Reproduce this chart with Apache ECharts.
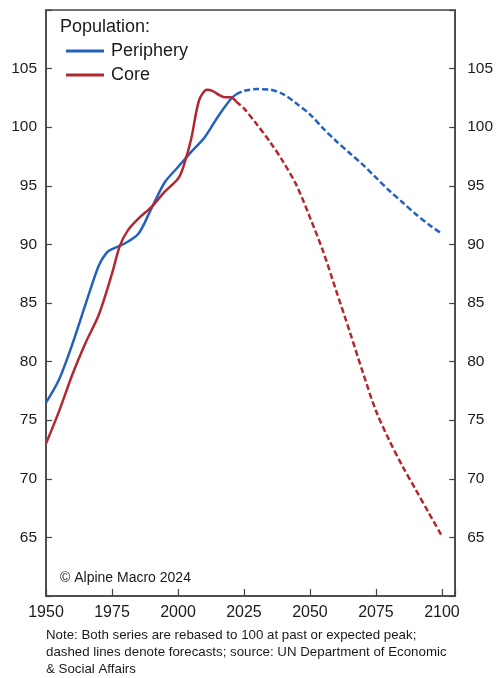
<!DOCTYPE html>
<html>
<head>
<meta charset="utf-8">
<script src="https://cdn.jsdelivr.net/npm/echarts@6/dist/echarts.min.js"></script>
<style>
html,body{margin:0;padding:0;background:#fff;}
#chart{width:496px;height:678px;}
</style>
</head>
<body>
<div id="chart"></div>
<script>
// Periphery (historical, solid)
const peripheryHistYears = [1950,1955,1960,1965,1970,1973,1975,1980,1985,1990,1995,2000,2005,2010,2015,2020,2022];
const peripheryHist      = [76.5,78.5,81.5,84.9,88.2,89.3,89.6,90.1,90.9,93.1,95.3,96.6,97.9,99.1,100.85,102.4,102.8];
// Periphery (forecast, dashed)
const peripheryFcYears = [2022,2025,2030,2035,2040,2045,2050,2055,2060,2065,2070,2075,2080,2085,2090,2095,2100];
const peripheryFc      = [102.8,103.1,103.25,103.2,102.8,102.0,101.1,99.9,98.8,97.8,96.8,95.7,94.6,93.6,92.6,91.7,90.9];
// Core (historical, solid)
const coreHistYears = [1950,1955,1960,1965,1970,1975,1978,1981,1985,1990,1995,2000,2002,2005,2008,2011,2013,2016,2018,2020,2022];
const coreHist      = [73.0,75.8,78.9,81.6,84.0,87.5,89.9,91.2,92.2,93.2,94.5,95.6,96.6,99.0,102.3,103.2,103.1,102.7,102.55,102.55,102.2];
// Core (forecast, dashed)
const coreFcYears = [2022,2025,2030,2035,2040,2045,2050,2055,2060,2065,2070,2075,2080,2085,2090,2095,2100];
const coreFc      = [102.2,101.6,100.2,98.7,97.0,95.0,92.3,89.4,86.0,82.6,79.1,75.8,73.3,71.1,69.1,67.1,65.1];

const xTickLabels = [1950,1975,2000,2025,2050,2075,2100];
const yTickLabels = [65,70,75,80,85,90,95,100,105];

const seriesNames = ['Periphery','Core'];
const BLUE = '#2461bd';
const RED = '#b2282f';
const FONT = '"Liberation Sans", Arial, sans-serif';

function pairs(xs, ys){ return xs.map((x,i)=>[x, ys[i]]); }

const chart = echarts.init(document.getElementById('chart'), null, {renderer:'canvas'});

const yAxisCommon = {
  type:'value', min:60, max:110, interval:5,
  axisLine:{show:true, lineStyle:{color:'#444', width:1.5}},
  axisTick:{show:true, inside:true, length:6, lineStyle:{color:'#444', width:1.2}},
  splitLine:{show:false},
  axisLabel:{
    fontFamily:FONT, fontSize:15.5, color:'#1a1a1a',
    formatter: v => yTickLabels.indexOf(v) >= 0 ? String(v) : ''
  }
};

const option = {
  animation:false,
  backgroundColor:'#fff',
  grid:{left:46, right:37, top:10, bottom:82, show:true, borderColor:'#444', borderWidth:1.5, containLabel:false},
  xAxis:{
    type:'value', min:1950, max:2105, interval:25,
    axisLine:{show:true, lineStyle:{color:'#444', width:1.5}},
    axisTick:{show:true, inside:true, length:7, lineStyle:{color:'#444', width:1.2}},
    splitLine:{show:false},
    axisLabel:{
      fontFamily:FONT, fontSize:16, color:'#1a1a1a', margin:9,
      formatter: v => xTickLabels.indexOf(v) >= 0 ? String(v) : ''
    }
  },
  yAxis:[
    Object.assign({}, yAxisCommon, {position:'left', axisLabel:Object.assign({}, yAxisCommon.axisLabel, {margin:9})}),
    Object.assign({}, yAxisCommon, {position:'right', axisLabel:Object.assign({}, yAxisCommon.axisLabel, {margin:12})})
  ],
  legend:{
    data:seriesNames,
    orient:'vertical',
    left:61, top:37,
    icon:'rect',
    itemWidth:38, itemHeight:3,
    itemGap:6,
    textStyle:{fontFamily:FONT, fontSize:18, color:'#1a1a1a', padding:[0,0,0,2]}
  },
  graphic:[
    {type:'text', left:60, top:18, style:{text:'Population:', font:'18px "Liberation Sans", Arial, sans-serif', fill:'#1a1a1a'}},
    {type:'text', left:60, top:571, style:{text:'\u00A9 Alpine Macro 2024', font:'14px "Liberation Sans", Arial, sans-serif', fill:'#1a1a1a'}},
    {type:'text', left:46, top:627, style:{
      text:'Note: Both series are rebased to 100 at past or expected peak;\ndashed lines denote forecasts; source: UN Department of Economic\n& Social Affairs',
      font:'13.3px "Liberation Sans", Arial, sans-serif', lineHeight:17, fill:'#1a1a1a'}}
  ],
  series:[
    {name:'Periphery', type:'line', smooth:0.3, showSymbol:false, color:BLUE, yAxisIndex:0,
      lineStyle:{color:BLUE, width:2.5}, data:pairs(peripheryHistYears, peripheryHist)},
    {name:'Core', type:'line', smooth:0.3, showSymbol:false, color:RED, yAxisIndex:0,
      lineStyle:{color:RED, width:2.5}, data:pairs(coreHistYears, coreHist)},
    {name:'Periphery forecast', type:'line', smooth:0.3, showSymbol:false, color:BLUE, yAxisIndex:0,
      lineStyle:{color:BLUE, width:2.5, type:[6,3]}, data:pairs(peripheryFcYears, peripheryFc)},
    {name:'Core forecast', type:'line', smooth:0.3, showSymbol:false, color:RED, yAxisIndex:0,
      lineStyle:{color:RED, width:2.5, type:[6,3]}, data:pairs(coreFcYears, coreFc)}
  ]
};
chart.setOption(option);
</script>
</body>
</html>
